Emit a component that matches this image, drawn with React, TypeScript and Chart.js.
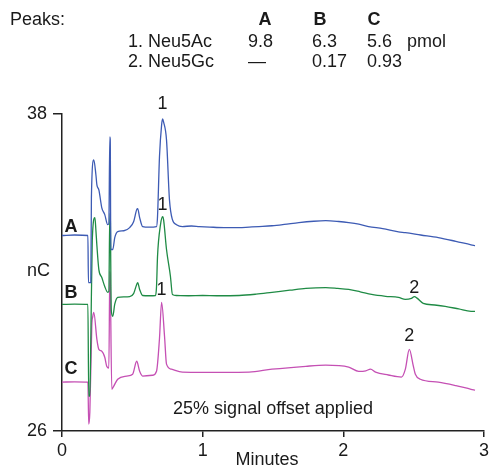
import React, { useEffect, useRef } from 'react';
import { Chart, registerables } from 'chart.js';

Chart.register(...registerables);

const FONT = '"Liberation Sans", Arial, Helvetica, sans-serif';
const TEXT = '#1a1a1a';
const AXIS = '#222222';

// Axis ticks
const xTicks = [0, 1, 2, 3];
const yTicks = [26, 38];

// Series
const seriesNames = ['A', 'B', 'C'];
const seriesColors = ['#3d5bb4', '#1f8b45', '#c550b4'];

// Trace A (minutes, nC)
const traceA: [number, number][] = [
  [0, 33.40], [0.09, 33.42], [0.184, 33.40], [0.188, 31.62], [0.205, 31.62], [0.209, 34.83],
  [0.226, 36.26], [0.241, 35.70], [0.248, 35.32], [0.262, 35.13], [0.283, 34.45], [0.304, 34.19],
  [0.325, 33.81], [0.333, 33.85], [0.340, 37.13], [0.343, 37.02], [0.347, 32.87], [0.361, 32.87],
  [0.375, 33.32], [0.396, 33.55], [0.44, 33.58], [0.481, 33.70], [0.509, 33.92], [0.531, 34.38],
  [0.538, 34.42], [0.552, 34.08], [0.573, 33.74], [0.62, 33.72], [0.672, 33.74], [0.679, 34.11],
  [0.693, 36.38], [0.708, 37.58], [0.715, 37.81], [0.722, 37.70], [0.743, 37.02], [0.764, 34.75],
  [0.785, 34.00], [0.814, 33.81], [0.856, 33.74], [0.92, 33.76], [0.976, 33.74], [1.05, 33.72],
  [1.153, 33.70], [1.259, 33.70], [1.33, 33.72], [1.40, 33.74], [1.493, 33.77], [1.58, 33.82],
  [1.684, 33.89], [1.79, 33.94], [1.875, 33.96], [1.967, 33.93], [2.038, 33.89], [2.11, 33.83],
  [2.179, 33.74], [2.28, 33.66], [2.392, 33.54], [2.441, 33.51], [2.55, 33.42], [2.675, 33.32],
  [2.80, 33.18], [2.908, 33.05], [2.936, 33.02],
];

// Trace B
const traceB: [number, number][] = [
  [0, 30.79], [0.09, 30.80], [0.184, 30.79], [0.190, 27.32], [0.198, 27.32], [0.205, 29.5],
  [0.215, 33.2], [0.234, 34.08], [0.241, 33.6], [0.248, 33.02], [0.262, 32.11], [0.283, 31.81],
  [0.304, 31.47], [0.325, 31.25], [0.333, 31.28], [0.340, 34.23], [0.343, 34.2], [0.350, 30.6],
  [0.361, 30.34], [0.375, 30.80], [0.396, 31.06], [0.44, 31.08], [0.481, 31.09], [0.509, 31.20],
  [0.531, 31.55], [0.538, 31.62], [0.552, 31.36], [0.573, 31.13], [0.62, 31.12], [0.665, 31.13],
  [0.672, 31.47], [0.679, 32.60], [0.700, 33.80], [0.715, 34.11], [0.722, 34.00], [0.743, 32.87],
  [0.771, 31.85], [0.785, 31.17], [0.814, 31.13], [0.9, 31.12], [1.0, 31.13], [1.1, 31.12],
  [1.259, 31.13], [1.38, 31.18], [1.493, 31.25], [1.62, 31.33], [1.734, 31.40], [1.875, 31.43],
  [1.96, 31.40], [2.038, 31.36], [2.12, 31.27], [2.201, 31.17], [2.30, 31.10], [2.392, 31.06],
  [2.441, 30.98], [2.484, 31.02], [2.505, 31.09], [2.526, 31.02], [2.568, 30.83], [2.65, 30.77],
  [2.724, 30.72], [2.82, 30.62], [2.908, 30.53], [2.936, 30.53],
];

// Trace C
const traceC: [number, number][] = [
  [0, 27.85], [0.09, 27.86], [0.184, 27.85], [0.190, 26.26], [0.198, 26.72], [0.212, 30.0],
  [0.219, 30.34], [0.226, 30.49], [0.248, 29.47], [0.262, 29.09], [0.283, 29.02], [0.304, 28.79],
  [0.318, 28.45], [0.333, 28.38], [0.340, 32.04], [0.343, 31.8], [0.354, 27.58], [0.368, 27.70],
  [0.396, 27.96], [0.460, 28.08], [0.502, 28.15], [0.531, 28.64], [0.552, 28.26], [0.573, 28.08],
  [0.644, 28.11], [0.672, 28.26], [0.693, 29.50], [0.708, 30.87], [0.729, 29.58], [0.743, 28.53],
  [0.778, 28.34], [0.856, 28.23], [1.0, 28.22], [1.15, 28.22], [1.330, 28.23], [1.493, 28.34],
  [1.734, 28.45], [1.875, 28.49], [2.038, 28.42], [2.109, 28.26], [2.16, 28.28], [2.193, 28.34],
  [2.229, 28.23], [2.32, 28.12], [2.413, 28.04], [2.441, 28.34], [2.469, 29.09], [2.498, 28.45],
  [2.512, 28.15], [2.547, 27.96], [2.675, 27.85], [2.80, 27.72], [2.908, 27.58], [2.936, 27.55],
];

const traces = [traceA, traceB, traceC];

// Peak annotations: series index, label, peak time, peak value
const peakSeries = [0, 1, 2, 1, 2];
const peakText = ['1', '1', '1', '2', '2'];
const peakTimes = [0.715, 0.715, 0.708, 2.505, 2.469];
const peakValues = [37.81, 34.11, 30.87, 31.09, 29.09];

// Table
const tableTitle = 'Peaks:';
const tableHeader = ['A', 'B', 'C'];
const tableNames = ['1. Neu5Ac', '2. Neu5Gc'];
const tableValues = [
  ['9.8', '6.3', '5.6'],
  ['\u2014', '0.17', '0.93'],
];
const tableUnit = 'pmol';

const yTitle = 'nC';
const xTitle = 'Minutes';
const noteText = '25% signal offset applied';

const overlayPlugin = {
  id: 'overlay',
  afterDraw(chart: any) {
    const { ctx, chartArea, scales } = chart;
    const xs = scales.x;
    const ys = scales.y;
    ctx.save();
    ctx.fillStyle = TEXT;
    const f = (w: string) => `${w} 18px ${FONT}`;

    // Table
    ctx.font = f('normal');
    ctx.textAlign = 'left';
    ctx.textBaseline = 'alphabetic';
    ctx.fillText(tableTitle, 10, 25);
    ctx.font = f('bold');
    ctx.textAlign = 'center';
    const headX = [265, 320, 374];
    tableHeader.forEach((h, i) => ctx.fillText(h, headX[i], 25));
    ctx.font = f('normal');
    ctx.textAlign = 'left';
    const colX = [248, 312, 367];
    const rowY = [47, 67];
    tableNames.forEach((n, r) => {
      ctx.fillText(n, 128, rowY[r]);
      tableValues[r].forEach((v, c) => ctx.fillText(v, colX[c], rowY[r]));
    });
    ctx.fillText(tableUnit, 407, rowY[0]);

    // Axis titles
    ctx.textAlign = 'center';
    ctx.textBaseline = 'middle';
    ctx.fillText(yTitle, 38.5, 271);
    ctx.textBaseline = 'alphabetic';
    ctx.fillText(xTitle, 267, 465);

    // Series labels
    ctx.font = f('bold');
    ctx.textBaseline = 'middle';
    const labelOff = [8, 11, 13];
    seriesNames.forEach((s, i) => {
      const y0 = ys.getPixelForValue(traces[i][0][1]);
      ctx.fillText(s, xs.getPixelForValue(0) + 9, y0 - labelOff[i]);
    });

    // Peak labels
    ctx.font = f('normal');
    const peakOff = [15, 12, 12, 9, 13];
    peakText.forEach((t, i) => {
      ctx.fillText(t, xs.getPixelForValue(peakTimes[i]), ys.getPixelForValue(peakValues[i]) - peakOff[i]);
    });

    // Note
    ctx.fillText(noteText, xs.getPixelForValue(1.5), chartArea.bottom - 22);
    ctx.restore();
  },
};

export default function App() {
  const ref = useRef<HTMLCanvasElement | null>(null);
  useEffect(() => {
    if (!ref.current) return;
    const chart = new Chart(ref.current, {
      type: 'line',
      data: {
        datasets: traces.map((t, i) => ({
          label: seriesNames[i],
          data: t.map(([x, y]) => ({ x, y })),
          borderColor: seriesColors[i],
          borderWidth: 1.3,
          pointRadius: 0,
          fill: false,
          cubicInterpolationMode: 'monotone' as const,
        })),
      },
      options: {
        animation: false,
        responsive: false,
        maintainAspectRatio: false,
        layout: { padding: { left: 0, right: 6, top: 114, bottom: 0 } },
        plugins: { legend: { display: false }, tooltip: { enabled: false } },
        scales: {
          x: {
            type: 'linear',
            min: 0,
            max: 3,
            afterBuildTicks: (axis: any) => { axis.ticks = xTicks.map((v) => ({ value: v })); },
            afterFit: (scale: any) => { scale.height = 35; },
            grid: { display: true, drawOnChartArea: false, drawTicks: true, tickLength: 6, color: AXIS, lineWidth: 1.5 },
            border: { display: true, color: AXIS, width: 1.5 },
            ticks: { color: TEXT, font: { family: FONT, size: 18 }, padding: 3, maxRotation: 0 },
          },
          y: {
            type: 'linear',
            min: 26,
            max: 38,
            afterBuildTicks: (axis: any) => { axis.ticks = yTicks.map((v) => ({ value: v })); },
            afterFit: (scale: any) => { scale.width = 62; },
            grid: { display: true, drawOnChartArea: false, drawTicks: true, tickLength: 9, color: AXIS, lineWidth: 1.5 },
            border: { display: true, color: AXIS, width: 1.5 },
            ticks: { color: TEXT, font: { family: FONT, size: 18 }, padding: 6 },
          },
        },
      },
      plugins: [overlayPlugin],
    });
    return () => chart.destroy();
  }, []);
  return (
    <div style={{ position: 'fixed', left: 0, top: 0, width: 492, height: 466, background: '#fff' }}>
      <canvas ref={ref} width={492} height={466} style={{ width: 492, height: 466 }} />
    </div>
  );
}
